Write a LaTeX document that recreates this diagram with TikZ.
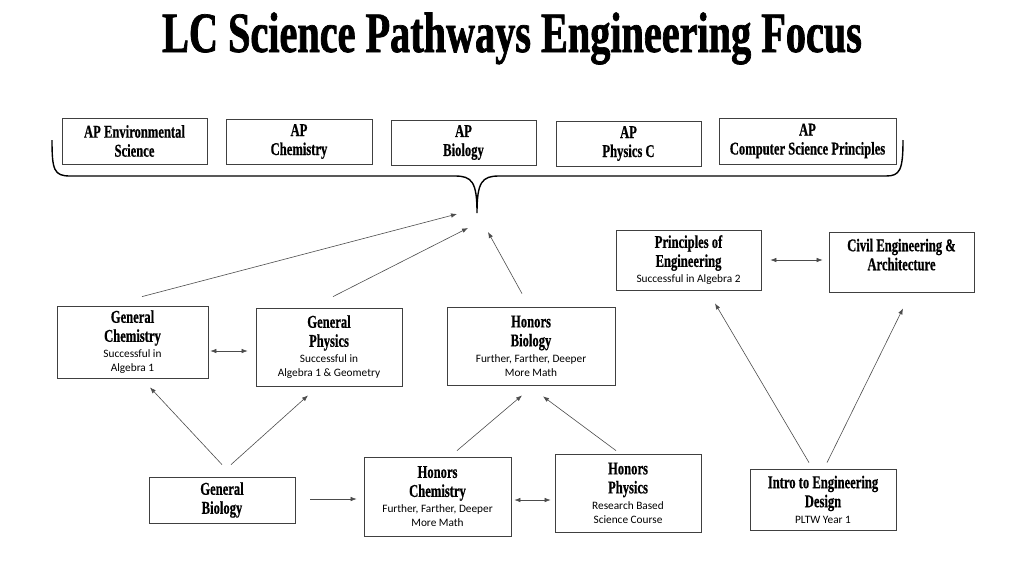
\documentclass[tikz,border=0pt]{standalone}
\usepackage{fontspec}
\setmainfont{Carlito}
\newfontfamily\titlefont[FakeStretch=0.706,FakeBold=1.2]{Liberation Serif}
\newfontfamily\headfont[FakeStretch=0.70,FakeBold=0.6]{Liberation Serif}
\usetikzlibrary{arrows.meta}
\newcommand{\note}[1]{{\normalfont\fontsize{11.3}{12}\selectfont #1}}
\tikzset{
  course/.style={draw=black!75, line width=0.8pt, align=center, inner sep=2pt,
    font=\headfont\bfseries\fontsize{18}{19}\selectfont},
  link/.style={color=black!70, line width=0.6pt},
}

\begin{document}
\begin{tikzpicture}[x=1pt,y=-1pt,>={Latex[length=6pt,width=4.5pt]}]
\useasboundingbox (0,0) rectangle (1024,576);
{\centering
\node (title) at (512,52) [anchor=base,font=\titlefont\bfseries\fontsize{57}{60}\selectfont] {LC Science Pathways Engineering Focus};

\node (apenv)   at (134.5,141)  [course,minimum width=145pt,minimum height=46pt] {AP Environmental\\Science};
\node (apchem)  at (299,141.5)  [course,minimum width=146pt,minimum height=45pt] {AP\\Chemistry};
\node (apbio)   at (463.5,142.5)[course,minimum width=145pt,minimum height=45pt] {AP\\Biology};
\node (apphys)  at (628.5,143.5)[course,minimum width=145pt,minimum height=45pt] {AP\\Physics C};
\node (apcsp)   at (807.5,141)  [course,minimum width=177pt,minimum height=46pt] {AP\\Computer Science Principles};

\node (genchem) at (132.5,342)  [course,minimum width=151pt,minimum height=72pt] {General\\Chemistry\\[-3pt]\note{Successful in}\\[-5pt]\note{Algebra 1}};
\node (genphys) at (329,347)    [course,minimum width=146pt,minimum height=78pt] {General\\Physics\\[-3pt]\note{Successful in}\\[-5pt]\note{Algebra 1 \& Geometry}};
\node (honbio)  at (531,346)    [course,minimum width=168pt,minimum height=78pt] {Honors\\Biology\\[-3pt]\note{Further, Farther, Deeper}\\[-5pt]\note{More Math}};
\node (princ)   at (688.5,260)  [course,minimum width=145pt,minimum height=60pt] {Principles of\\Engineering\\[-3pt]\note{Successful in Algebra 2}};
\node (civil)   at (901.5,262)  [course,minimum width=145pt,minimum height=60pt] {Civil Engineering \&\\Architecture\\[-4pt]\mbox{}};

\node (genbio)  at (222,500)    [course,minimum width=146pt,minimum height=46pt] {General\\Biology};
\node (honchem) at (437.5,496.5)[course,minimum width=147pt,minimum height=79pt] {Honors\\Chemistry\\[-3pt]\note{Further, Farther, Deeper}\\[-5pt]\note{More Math}};
\node (honphys) at (628,493)    [course,minimum width=146pt,minimum height=78pt] {Honors\\Physics\\[-3pt]\note{Research Based}\\[-5pt]\note{Science Course}};
\node (intro)   at (823,499.5)  [course,minimum width=146pt,minimum height=61pt] {Intro to Engineering\\Design\\[-3pt]\note{PLTW Year 1}};

\coordinate (tip) at (477,213);
\coordinate (in1) at (457,214);
\coordinate (in2) at (468,228);
\coordinate (in3) at (488,232);

\draw[line width=1.4pt] (52,140) .. controls (52,170) and (54,176) .. (70,176) -- (455,176)
  .. controls (472,176) and (477,182) .. (tip) .. controls (477,182) and (482,176) .. (499,176)
  -- (886,176) .. controls (900,176) and (903,170) .. (903,140);

\path[link,->] ([xshift=9.5pt,yshift=9pt]genchem.north) edge (in1);
\path[link,->] ([xshift=4pt,yshift=11pt]genphys.north) edge (in2);
\path[link,->] ([xshift=-9pt,yshift=13pt]honbio.north) edge (in3);

\path[link,<->] ([yshift=-9pt]genchem.east) edge[shorten <=2pt,shorten >=8pt] ([yshift=-4pt]genphys.west);
\path[link,->] ([yshift=12pt]genbio.north) edge ([xshift=17.5pt,yshift=-9pt]genchem.south);
\path[link,->] ([xshift=9pt,yshift=12pt]genbio.north) edge ([xshift=-21pt,yshift=-9pt]genphys.south);

\path[link,->] ([yshift=1pt]genbio.east) edge[shorten <=15pt,shorten >=7pt] ([yshift=-2.5pt]honchem.west);
\path[link,<->] ([yshift=-3.5pt]honchem.east) edge[shorten <=3pt,shorten >=4pt] ([yshift=-7pt]honphys.west);
\path[link,->] ([xshift=19.5pt,yshift=6pt]honchem.north) edge ([xshift=-9pt,yshift=-10pt]honbio.south);
\path[link,->] ([xshift=-12pt,yshift=3pt]honphys.north) edge ([xshift=12pt,yshift=-11pt]honbio.south);

\path[link,<->] (princ.east) edge[shorten <=9pt,shorten >=6pt] ([yshift=2pt]civil.west);
\path[link,->] ([xshift=-14pt,yshift=6pt]intro.north) edge ([xshift=26.5pt,yshift=-13pt]princ.south);
\path[link,->] ([xshift=4pt,yshift=6pt]intro.north) edge ([xshift=1.5pt,yshift=-16pt]civil.south);

}
\end{tikzpicture}
\end{document}
